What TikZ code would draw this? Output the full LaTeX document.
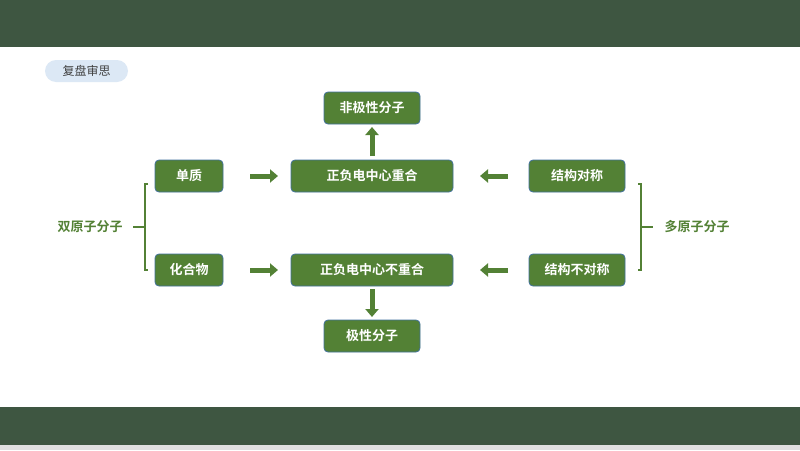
\documentclass[tikz,border=0pt]{standalone}
\usepackage{fontspec}
\setmainfont{Noto Sans CJK SC}[BoldFont={* Bold}]
\usetikzlibrary{arrows.meta}
\definecolor{bar}{HTML}{3E5641}
\definecolor{gbox}{HTML}{538135}
\definecolor{bord}{HTML}{41719C}
\definecolor{tag}{HTML}{DCE8F5}
\tikzset{
  box/.style={draw=bord,line width=0.8pt,fill=gbox,rounded corners=4pt,text=white,font=\fontsize{13}{15}\selectfont\bfseries,minimum height=32pt,inner sep=0pt},
  blk/.style={gbox,line width=5pt,-{Triangle[length=8pt,width=13pt]},shorten >=0pt},
  brk/.style={gbox,line width=1.4pt},
  lbl/.style={text=gbox,font=\fontsize{13}{15}\selectfont\bfseries}
}
\begin{document}
\begin{tikzpicture}[x=1pt,y=-1pt]
\useasboundingbox (0,0) rectangle (800,450);
\fill[white] (0,0) rectangle (800,450);
\fill[bar] (0,0) rectangle (800,47);
\fill[bar] (0,407) rectangle (800,445);
\fill[black!12] (0,445) rectangle (800,450);
\node[fill=tag,rounded corners=11pt,minimum width=83pt,minimum height=22pt,inner sep=0pt,font=\fontsize{12}{14}\selectfont,text=black!75] (tag) at (86.5,71) {复盘审思};
\node[box,minimum width=96pt] (np) at (372,108) {非极性分子};
\node[box,minimum width=68pt] (dz) at (189,176) {单质};
\node[box,minimum width=162pt] (ch) at (372,176) {正负电中心重合};
\node[box,minimum width=96pt] (dc) at (577,176) {结构对称};
\node[box,minimum width=68pt] (hh) at (189,270) {化合物};
\node[box,minimum width=162pt] (cn) at (372,270) {正负电中心不重合};
\node[box,minimum width=96pt] (bd) at (577,270) {结构不对称};
\node[box,minimum width=96pt] (jp) at (372,336) {极性分子};
\coordinate (a1) at (250,176); \coordinate (a2) at (278,176);
\coordinate (b1) at (508,176); \coordinate (b2) at (480,176);
\coordinate (c1) at (250,270); \coordinate (c2) at (278,270);
\coordinate (d1) at (508,270); \coordinate (d2) at (480,270);
\coordinate (u1) at (372,156); \coordinate (u2) at (372,127);
\coordinate (v1) at (372,289); \coordinate (v2) at (372,317);
\draw[blk] (a1) -- (a2);
\draw[blk] (b1) -- (b2);
\draw[blk] (c1) -- (c2);
\draw[blk] (d1) -- (d2);
\draw[blk] (u1) -- (u2);
\draw[blk] (v1) -- (v2);
\draw[brk] (148,184) -- (145,184) -- (145,270) -- (148,270);
\draw[brk] (133,227) -- (145,227);
\draw[brk] (638,184) -- (641,184) -- (641,270) -- (638,270);
\draw[brk] (641,227) -- (653,227);
\node[lbl] (sy) at (90,227) {双原子分子};
\node[lbl] (dy) at (697,227) {多原子分子};
\end{tikzpicture}
\end{document}
